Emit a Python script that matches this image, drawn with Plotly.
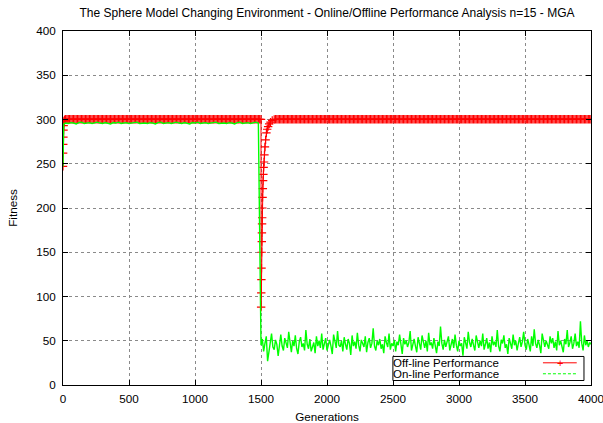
import plotly.graph_objects as go

# ---------------- data ----------------
TITLE = "The Sphere Model Changing Environment - Online/Offline Performance Analysis n=15 - MGA"
X_TICKS = [0, 500, 1000, 1500, 2000, 2500, 3000, 3500, 4000]
Y_TICKS = [0, 50, 100, 150, 200, 250, 300, 350, 400]

# Off-line performance: start ramp, plateau, drop at 1500 and recovery
off_start_x = [0, 1, 2, 3, 4, 5, 6, 8, 10, 13, 16]
off_start_y = [247, 262, 272, 280, 288, 293, 296, 298, 299, 299.5, 300]
off_plateau1_x = list(range(20, 1501, 10))
off_plateau1_y = [300.2] * len(off_plateau1_x)
off_drop_x = [1501, 1502, 1503, 1504, 1505, 1506, 1507, 1508, 1509, 1510, 1512, 1514, 1516,
              1518, 1520, 1523, 1526, 1530, 1535, 1541, 1547, 1554, 1562, 1572, 1585, 1600]
off_drop_y = [88, 104, 119, 132, 150, 162, 172, 182, 189, 200, 212, 222, 231,
              238, 246, 252, 260, 269, 277, 285, 289, 292, 295, 297, 299, 300]
off_plateau2_x = list(range(1610, 4001, 10))
off_plateau2_y = [300.2] * len(off_plateau2_x)

# On-line performance
on_start_x = [0, 1, 2, 3, 5, 8, 12]
on_start_y = [247, 270, 285, 292, 294, 295.5, 296]
on_phase1_x = list(range(20, 1500, 20))
on_phase1_y = [296, 295.5, 296.5, 296, 295, 296.5, 297, 295.5, 296, 296.5,
               295.5, 296, 297, 296, 295.5, 296.5, 296, 295, 296.5, 296,
               297, 295.5, 296, 296.5, 295.5, 296, 296.5, 297, 295.5, 296,
               296, 295.5, 296.5, 296, 295, 296.5, 297, 295.5, 296, 296.5,
               295.5, 296, 297, 296, 295.5, 296.5, 296, 295, 296.5, 296,
               297, 295.5, 296, 296.5, 295.5, 296, 296.5, 297, 295.5, 296,
               296, 295.5, 296.5, 296, 295, 296.5, 297, 295.5, 296, 296.5,
               295.5, 296, 297, 296]
on_phase2_x = list(range(1500, 4001, 10))
on_phase2_y = [
    45, 52, 38, 47, 55, 27, 36, 49, 58, 43,
    40, 51, 46, 33, 48, 57, 44, 39, 53, 47,
    42, 60, 45, 37, 50, 44, 56, 41, 35, 49,
    54, 43, 47, 39, 62, 46, 41, 52, 38, 45,
    48, 36, 55, 44, 50, 42, 58, 40, 47, 53,
    39, 46, 51, 44, 35, 57, 48, 42, 61, 45,
    43, 50, 38, 54, 46, 40, 52, 47, 34, 56,
    44, 49, 41, 59, 45, 38, 51, 46, 43, 55,
    37, 48, 53, 42, 47, 64, 44, 39, 50, 45,
    52, 41, 46, 36, 55, 48, 43, 58, 40, 47,
    44, 51, 38, 49, 45, 57, 42, 35, 53, 46,
    50, 43, 48, 61, 39, 45, 52, 44, 37, 54,
    46, 40, 56, 47, 42, 50, 38, 59, 45, 48,
    41, 53, 45, 36, 49, 44, 66, 47, 40, 51,
    43, 48, 55, 39, 46, 52, 42, 57, 45, 38,
    50, 44, 47, 33, 54, 46, 41, 60, 48, 43,
    52, 45, 39, 56, 47, 42, 50, 44, 58, 40,
    46, 53, 41, 48, 37, 55, 45, 49, 43, 62,
    44, 38, 51, 47, 56, 42, 46, 35, 53, 48,
    41, 57, 45, 50, 39, 47, 54, 43, 49, 60,
    45, 40, 52, 46, 38, 55, 44, 63, 47, 42,
    51, 45, 36, 58, 48, 43, 50, 46, 41, 55,
    47, 53, 42, 49, 39, 61, 45, 50, 44, 37,
    52, 46, 62, 43, 48, 55, 41, 47, 58, 44,
    49, 42, 72, 47, 39, 56, 45, 50, 43, 48,
    46]

off_x = off_start_x + off_plateau1_x + off_drop_x + off_plateau2_x
off_y = off_start_y + off_plateau1_y + off_drop_y + off_plateau2_y
on_x = on_start_x + on_phase1_x + on_phase2_x
on_y = on_start_y + on_phase1_y + on_phase2_y

# ---------------- figure ----------------
FONT = "Liberation Sans, Arial, Helvetica, sans-serif"
FS = 11.7
fig = go.Figure()
fig.add_trace(go.Scatter(
    x=off_x, y=off_y, mode="lines+markers", name="Off-line Performance",
    line=dict(color="#ff0000", width=1),
    marker=dict(symbol="cross-thin", size=6, line=dict(color="#ff0000", width=1.2)),
    showlegend=False))
fig.add_trace(go.Scatter(
    x=on_x, y=on_y, mode="lines", name="On-line Performance",
    line=dict(color="#00ff00", width=1.4),
    showlegend=False))

axis_common = dict(
    showline=True, linecolor="black", linewidth=1, mirror="ticks",
    ticks="inside", ticklen=5, tickcolor="black", tickwidth=1,
    showgrid=True, gridcolor="#8a8a8a", gridwidth=1, griddash="dot",
    zeroline=False, automargin=False, ticklabeloverflow="allow",
    tickfont=dict(family=FONT, size=FS, color="black"),
)
fig.update_xaxes(range=[0, 4000.01], tickvals=X_TICKS, ticktext=[str(v) for v in X_TICKS],
                 title=dict(text="Generations", font=dict(family=FONT, size=FS, color="black"), standoff=8),
                 ticklabelstandoff=3, **axis_common)
fig.update_yaxes(range=[0, 400], tickvals=Y_TICKS, ticktext=[str(v) for v in Y_TICKS],
                 title=dict(text="Fitness", font=dict(family=FONT, size=FS, color="black"), standoff=16),
                 ticklabelstandoff=4, **axis_common)

# gnuplot-style key box (bottom right, opaque)
lx0, lx1, ly0, ly1 = 0.6248, 0.9867, 0.0127, 0.0806
fig.add_shape(type="rect", xref="paper", yref="paper", x0=lx0, x1=lx1, y0=ly0, y1=ly1,
              line=dict(color="black", width=1), fillcolor="white", layer="above")
row1, row2 = 0.0627, 0.0317
fig.add_annotation(xref="paper", yref="paper", x=lx0 - 0.002, y=row1, text="Off-line Performance",
                   showarrow=False, xanchor="left", yanchor="middle", height=10, borderpad=0,
                   font=dict(family=FONT, size=11.5, color="black"))
fig.add_annotation(xref="paper", yref="paper", x=lx0 - 0.002, y=row2, text="On-line Performance",
                   showarrow=False, xanchor="left", yanchor="middle", height=10, borderpad=0,
                   font=dict(family=FONT, size=11.5, color="black"))
sx0, sx1 = 0.909, 0.973
fig.add_shape(type="line", xref="paper", yref="paper", x0=sx0, x1=sx1, y0=row1, y1=row1,
              line=dict(color="#ff0000", width=1), layer="above")
fig.add_annotation(xref="paper", yref="paper", x=(sx0 + sx1) / 2, y=row1, text="+",
                   showarrow=False, xanchor="center", yanchor="middle", height=9, borderpad=0,
                   font=dict(family=FONT, size=11, color="#ff0000"))
fig.add_shape(type="line", xref="paper", yref="paper", x0=sx0, x1=sx1, y0=row2, y1=row2,
              line=dict(color="#00ff00", width=1, dash="3px,2px"), layer="above")

fig.update_layout(
    width=603, height=423,
    margin=dict(l=63, r=12, t=31, b=38),
    paper_bgcolor="white", plot_bgcolor="white",
    title=dict(text=TITLE, x=0.5, xanchor="center", xref="paper", y=1 - 13 / 423, yanchor="middle",
               font=dict(family=FONT, size=12, color="black")),
    font=dict(family=FONT, size=FS, color="black"),
)

fig.write_html("out.html", config={"displayModeBar": False},
               post_script="document.body.style.margin='0px';")
